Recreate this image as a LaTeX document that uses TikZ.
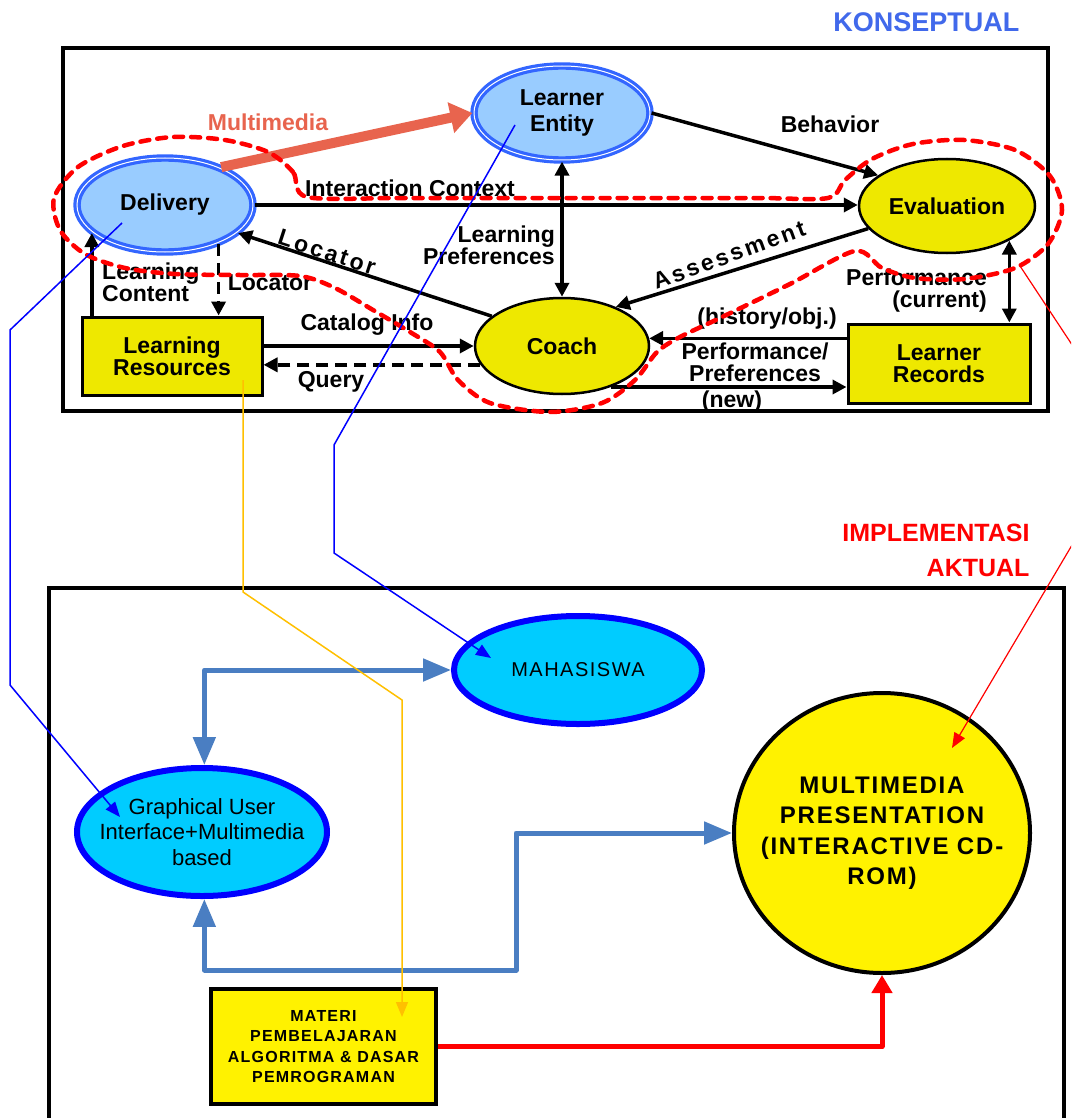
\documentclass[tikz,border=0pt]{standalone}
\usepackage{fontspec}
\setmainfont{Liberation Sans}
\newfontfamily\spaced[LetterSpace=12]{Liberation Sans}
\newfontfamily\tracked[LetterSpace=7.5]{Liberation Sans}
\usetikzlibrary{arrows.meta,shapes.geometric}
\definecolor{yelltop}{RGB}{238,232,0}
\definecolor{skyfill}{RGB}{153,204,255}
\definecolor{ringblue}{RGB}{51,102,255}
\definecolor{salmon}{RGB}{232,100,78}
\definecolor{cyanfill}{RGB}{0,204,255}
\definecolor{steel}{RGB}{74,126,194}
\definecolor{konsep}{RGB}{65,105,235}
\definecolor{goldline}{RGB}{255,192,0}
\newcommand\toplbl{\bfseries\fontsize{23}{22}\selectfont}
\begin{document}
\begin{tikzpicture}[x=1pt,y=-1pt,>={Triangle[length=14pt,width=14pt]},
    skyell/.style={ellipse,fill=skyfill,draw=ringblue,line width=3.2pt,double=white,double distance=1pt,inner sep=0pt,font=\toplbl,align=center},
    yellell/.style={ellipse,fill=yelltop,draw=black,line width=2.5pt,inner sep=0pt,font=\toplbl},
    ybox/.style={rectangle,fill=yelltop,draw=black,line width=3pt,inner sep=0pt,font=\toplbl,align=center},
    lbl/.style={inner sep=0pt,font=\toplbl},
    arr/.style={line width=3.5pt,->},
    dasharr/.style={arr,dash pattern=on 12pt off 7pt},
    cyanell/.style={ellipse,fill=cyanfill,draw=blue,line width=6pt,inner sep=0pt},
    sbarrow/.style={steel,line width=5pt,line join=round,{Triangle[length=28pt,width=22pt]}-{Triangle[length=28pt,width=22pt]}},
    thinline/.style={line width=1.5pt,-{Triangle[length=15pt,width=12pt]}}]
\useasboundingbox (0,0) rectangle (1071,1118);
\clip (0,0) rectangle (1071,1118);
\fill[white] (0,0) rectangle (1071,1118);

\node[anchor=east,text=konsep,font=\bfseries\fontsize{27}{30}\selectfont] (konsep) at (1023,22) {KONSEPTUAL};
\draw[line width=3.5pt] (63,48) rectangle (1048,411);

\node[skyell,minimum width=176pt,minimum height=94pt,font=\bfseries\fontsize{23}{26}\selectfont] (learner) at (562,113) {Learner\\Entity};
\node[skyell,minimum width=176pt,minimum height=94pt] (deliv) at (165,205) {Delivery};
\node[yellell,minimum width=176pt,minimum height=94pt] (eval) at (947,206) {Evaluation};
\node[yellell,minimum width=174pt,minimum height=96pt] (coach) at (562,346) {Coach};
\node[ybox,minimum width=180pt,minimum height=78pt] (lres) at (172,356) {Learning\\Resources};
\node[ybox,minimum width=182pt,minimum height=79pt] (lrec) at (939,363.5) {Learner\\Records};

\draw[salmon,line width=10pt,-{Triangle[length=22pt,width=30pt]}] (deliv.34) -- (learner.west);
\node[lbl,text=salmon] (mmlbl) at (268,122) {Multimedia};
\draw[arr] (learner.east) -- (eval.156);
\node[lbl] (behlbl) at (830,124) {Behavior};
\draw[arr] (deliv.east) -- (deliv.east -| eval.west);
\node[lbl] (intlbl) at (410,188) {Interaction Context};
\draw[arr,<->] (learner.south) -- (coach.north);
\node[lbl,anchor=east,align=right] (preflbl) at (555,245) {Learning\\Preferences};
\draw[arr] (coach.157) -- (deliv.339);
\node[lbl,rotate=-18,font=\spaced\toplbl] (loclbl) at (327,252) {Locator};
\draw[arr] (eval.196) -- (coach.36);
\node[lbl,rotate=20,font=\spaced\toplbl] (asslbl) at (729,255) {Assessment};
\draw[dasharr] (deliv.324) -- (deliv.324 |- lres.north);
\node[lbl] (loc2lbl) at (270,283) {Locator};
\draw[arr] (deliv.201 |- lres.north) -- (deliv.201);
\node[lbl,anchor=west,align=left] (contlbl) at (102,282) {Learning\\Content};
\draw[arr] (lres.east |- coach.west) -- (coach.west);
\node[lbl] (catlbl) at (367,325) {Catalog Info};
\draw[dasharr] (coach.193) -- (coach.193 -| lres.east);
\node[lbl] (qlbl) at (331,382) {Query};
\draw[arr] (coach.5 -| lrec.west) -- (coach.5);
\node[lbl] (histlbl) at (767,319) {(history/obj.)};
\draw[arr] (coach.320) -- (coach.320 -| lrec.west);
\node[lbl,align=center] (pnlbl) at (755,362) {Performance/\\Preferences};
\node[lbl] (newlbl) at (732,402) {(new)};
\draw[arr,<->] (eval.331) -- (eval.331 |- lrec.north);
\node[lbl,anchor=east,align=right] (curlbl) at (987,291) {Performance\\(current)};

\draw[red,line width=4.5pt,dash pattern=on 9pt off 8pt,line cap=round] plot[smooth cycle,tension=0.5] coordinates {
  (307,197) (293,172) (268,152) (225,140) (173,137) (123,146) (78,167) (54,198) (60,230) (85,254)
  (125,268) (175,274) (240,275) (300,276) (335,288) (373,310) (410,332) (440,352) (458,380) (490,403)
  (550,412) (602,403) (635,380) (657,352) (680,337) (720,318) (790,284) (855,251) (882,268) (915,278)
  (964,279) (1015,268) (1048,244) (1062,210) (1050,176) (1015,150) (964,140) (913,144) (872,159) (845,180)
  (828,198) (760,198) (650,198) (500,198) (400,198)};

\node[anchor=east,align=right,text=red,font=\bfseries\fontsize{25}{35}\selectfont] (impl) at (1033,550) {IMPLEMENTASI\\AKTUAL};
\draw[line width=4pt] (49,588) rectangle (1064,1140);

\node[cyanell,minimum width=248pt,minimum height=108pt,font=\tracked\fontsize{20}{24}\selectfont] (maha) at (578,670) {MAHASISWA};
\node[cyanell,inner sep=-30pt,minimum width=250pt,minimum height=128pt,align=center,font=\fontsize{22}{25.5}\selectfont] (gui) at (202,832) {Graphical User\\Interface+Multimedia\\based};
\node[ellipse,fill=yellow,draw=black,line width=4pt,inner sep=-40pt,minimum width=296pt,minimum height=280pt,align=center,font=\tracked\bfseries\fontsize{24}{30.5}\selectfont] (mm) at (882,833) {MULTIMEDIA\\PRESENTATION\\(INTERACTIVE CD-\\ROM)};
\node[rectangle,fill=yellow,draw=black,line width=4pt,inner sep=0pt,minimum width=225pt,minimum height=115pt,align=center,font=\tracked\bfseries\fontsize{16}{20.5}\selectfont] (materi) at (323.5,1046.5) {MATERI\\PEMBELAJARAN\\ALGORITMA \& DASAR\\PEMROGRAMAN};

\coordinate (sbend) at (516,970);
\draw[sbarrow] (gui.88) |- (maha.west);
\draw[sbarrow] (gui.272) |- (sbend) |- (mm.west);
\draw[red,line width=5pt,line join=round,-{Triangle[length=18pt,width=20pt]}] (materi.east) -| (mm.south);

\coordinate (offa) at (1092,375);
\coordinate (offb) at (1088,518);
\draw[thinline,blue] ([shift={(-43,18)}]deliv.center) -- (10,330) -- (10,685) -- ([shift={(-82,-15)}]gui.center);
\draw[thinline,blue] ([shift={(-47,12)}]learner.center) -- (334,445) -- (334,553) -- ([shift={(-87,-12)}]maha.center);
\draw[thinline,goldline] ([shift={(71,24)}]lres.center) -- (243,592) -- (402,700) -- ([shift={(78.5,-29.5)}]materi.center);
\draw[line width=1.2pt,red] ([shift={(73,60)}]eval.center) -- (offa);
\draw[thinline,red,line width=1.2pt] (offb) -- ([shift={(70,-85)}]mm.center);
\end{tikzpicture}
\end{document}
